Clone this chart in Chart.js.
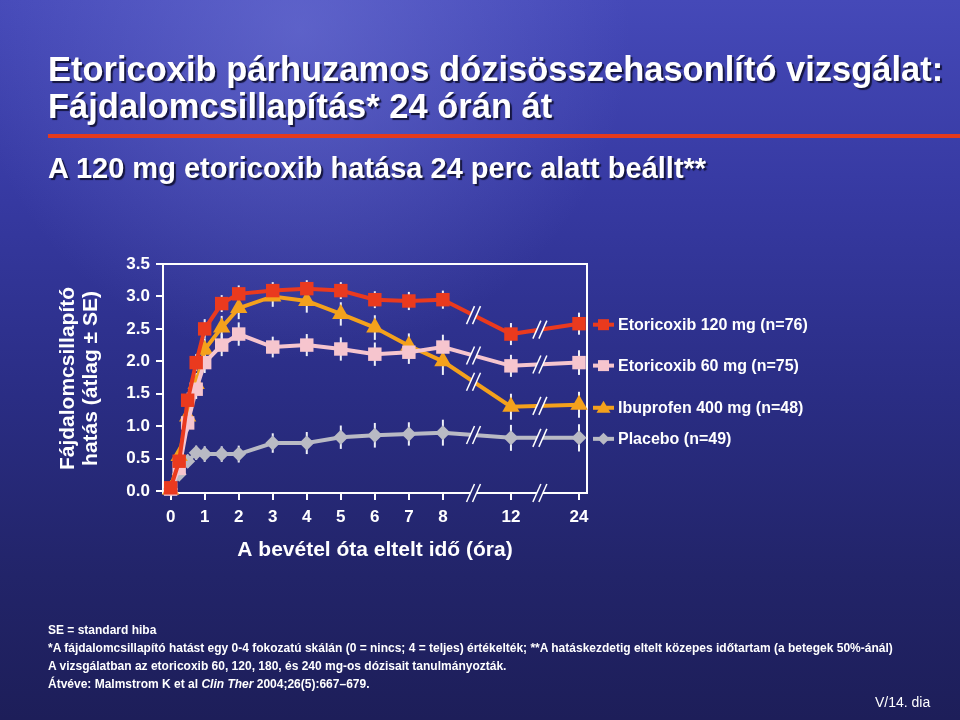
<!DOCTYPE html>
<html>
<head>
<meta charset="utf-8">
<script src="https://cdn.jsdelivr.net/npm/chart.js@4.4.1/dist/chart.umd.min.js"></script>
<style>
  html, body { margin: 0; padding: 0; }
  body { width: 960px; height: 720px; overflow: hidden; position: relative; background: #2a2d85;
         font-family: "Liberation Sans", Arial, sans-serif; color: #fff; }
  #chart { position: absolute; left: 0; top: 0; }
  .title { position: absolute; left: 48px; top: 51px; font-size: 34.5px; line-height: 37px; font-weight: bold;
           text-shadow: 2px 2px 1px #15163f; white-space: nowrap; }
  .rule { position: absolute; left: 48px; top: 134px; width: 912px; height: 4px; background: #e53a1c; }
  .sub { position: absolute; left: 48px; top: 152px; font-size: 29px; line-height: 1.15; font-weight: bold;
         text-shadow: 2px 2px 1px #15163f; white-space: nowrap; }
  .notes { position: absolute; left: 48px; top: 621px; font-size: 12px; line-height: 18px; font-weight: bold; white-space: nowrap; }
  .slide { position: absolute; left: 875px; top: 694px; font-size: 14px; white-space: nowrap; }
</style>
</head>
<body>
<canvas id="chart" width="960" height="720"></canvas>
<div class="title">Etoricoxib párhuzamos dózisösszehasonlító vizsgálat:<br>Fájdalomcsillapítás* 24 órán át</div>
<div class="rule"></div>
<div class="sub">A 120 mg etoricoxib hatása 24 perc alatt beállt**</div>
<div class="notes">SE = standard hiba<br>*A fájdalomcsillapító hatást egy 0-4 fokozatú skálán (0 = nincs; 4 = teljes) értékelték; **A hatáskezdetig eltelt közepes időtartam (a betegek 50%-ánál)<br>A vizsgálatban az etoricoxib 60, 120, 180, és 240 mg-os dózisait tanulmányozták.<br>Átvéve: Malmstrom K et al <i>Clin Ther</i> 2004;26(5):667–679.</div>
<div class="slide">V/14. dia</div>
<script>
// idõpontok (óra) és átlag ± SE értékek, a képrõl leolvasva
const hours = [0, 0.25, 0.5, 0.75, 1, 1.5, 2, 3, 4, 5, 6, 7, 8, 12, 24];
const xTickHours = [0, 1, 2, 3, 4, 5, 6, 7, 8, 12, 24];
const yTicks = [0, 0.5, 1, 1.5, 2, 2.5, 3, 3.5];

const etori120 = [0.05, 0.46, 1.40, 1.98, 2.50, 2.89, 3.04, 3.09, 3.12, 3.09, 2.95, 2.93, 2.95, 2.42, 2.58];
const etori60  = [0.03, 0.35, 1.05, 1.57, 1.98, 2.25, 2.42, 2.22, 2.25, 2.19, 2.11, 2.14, 2.22, 1.93, 1.98];
const ibuprofen = [0.02, 0.54, 1.15, 1.65, 2.18, 2.52, 2.82, 3.00, 2.93, 2.73, 2.52, 2.24, 2.00, 1.30, 1.33];
const placebo  = [0.03, 0.26, 0.46, 0.59, 0.57, 0.57, 0.57, 0.74, 0.74, 0.83, 0.86, 0.88, 0.90, 0.82, 0.82];

const se120 = [0, 0.10, 0.12, 0.13, 0.15, 0.13, 0.13, 0.13, 0.13, 0.13, 0.13, 0.14, 0.14, 0.17, 0.17];
const se60  = [0, 0.10, 0.13, 0.15, 0.16, 0.17, 0.18, 0.16, 0.17, 0.18, 0.18, 0.18, 0.19, 0.17, 0.19];
const seIbu = [0, 0.12, 0.15, 0.17, 0.17, 0.18, 0.17, 0.16, 0.18, 0.18, 0.19, 0.19, 0.21, 0.20, 0.20];
const sePla = [0, 0.08, 0.10, 0.11, 0.12, 0.12, 0.13, 0.15, 0.17, 0.18, 0.19, 0.18, 0.20, 0.20, 0.21];

const labels = ["Etoricoxib 120 mg (n=76)", "Etoricoxib 60 mg (n=75)", "Ibuprofen 400 mg (n=48)", "Placebo (n=49)"];

// megszakított idõtengely: 0–8 óra lineáris, utána 12 és 24 óra két-két egységgel arrébb
function axisPos(h) {
  if (h <= 8) return h;
  return h <= 12 ? 8 + (h - 8) / 2 : 10 + (h - 12) / 6;
}
const breakAt = [8.9, 10.85]; // a "//" jelek helye tengely-egységben

const FONT = '"Liberation Sans", Arial, sans-serif';
const COLORS = ["#ea3a1e", "#f6c5ce", "#f4a11c", "#b9bac4"];
const STYLES = ["rect", "rect", "triangle", "rectRot"];
const RADII = [9.5, 9.5, 10, 7.5];
const values = [etori120, etori60, ibuprofen, placebo];
const errors = [se120, se60, seIbu, sePla];

let bgGrad = null;
function makeBg(ctx) {
  const g = ctx.createLinearGradient(0, 0, 0, 720);
  g.addColorStop(0, "#4549b8");
  g.addColorStop(0.28, "#3639a1");
  g.addColorStop(0.55, "#2a2d84");
  g.addColorStop(0.8, "#222469");
  g.addColorStop(1, "#1d1e59");
  return g;
}

const backdrop = {
  id: "backdrop",
  beforeDraw(chart) {
    const ctx = chart.ctx;
    bgGrad = makeBg(ctx);
    ctx.save();
    ctx.fillStyle = bgGrad;
    ctx.fillRect(0, 0, chart.width, chart.height);
    const r = ctx.createRadialGradient(300, 30, 0, 300, 30, 330);
    r.addColorStop(0, "rgba(125,130,225,0.45)");
    r.addColorStop(1, "rgba(125,130,225,0)");
    ctx.fillStyle = r;
    ctx.fillRect(0, 0, chart.width, 360);
    ctx.restore();
  }
};

function slashes(ctx, cx, cy) {
  // háttérszínû rés két ferde vonal között, majd a fehér vonalak
  const dx = 4, dy = 9, gap = 3;
  ctx.save();
  ctx.fillStyle = bgGrad;
  ctx.beginPath();
  ctx.moveTo(cx - gap - dx, cy + dy);
  ctx.lineTo(cx - gap + dx, cy - dy);
  ctx.lineTo(cx + gap + dx, cy - dy);
  ctx.lineTo(cx + gap - dx, cy + dy);
  ctx.closePath();
  ctx.fill();
  ctx.strokeStyle = "#ffffff";
  ctx.lineWidth = 1.5;
  [-gap, gap].forEach((o) => {
    ctx.beginPath();
    ctx.moveTo(cx + o - dx, cy + dy);
    ctx.lineTo(cx + o + dx, cy - dy);
    ctx.stroke();
  });
  ctx.restore();
}

const frameAndErrors = {
  id: "frameAndErrors",
  beforeDatasetsDraw(chart) {
    const { ctx, chartArea: a, scales: { x, y } } = chart;
    ctx.save();
    ctx.strokeStyle = "#ffffff";
    ctx.lineWidth = 2;
    ctx.strokeRect(a.left, a.top, a.right - a.left, a.bottom - a.top);
    ctx.restore();
    breakAt.forEach((b) => slashes(ctx, x.getPixelForValue(b), a.bottom));
    // hibasávok (átlag ± SE)
    ctx.save();
    ctx.strokeStyle = "#eef0f8";
    ctx.lineWidth = 2;
    chart.data.datasets.forEach((ds, di) => {
      const meta = chart.getDatasetMeta(di);
      meta.data.forEach((pt, i) => {
        const e = errors[di][i];
        if (!e) return;
        ctx.beginPath();
        ctx.moveTo(pt.x, y.getPixelForValue(values[di][i] + e));
        ctx.lineTo(pt.x, y.getPixelForValue(values[di][i] - e));
        ctx.stroke();
      });
    });
    ctx.restore();
  },
  afterDatasetsDraw(chart) {
    const { ctx, chartArea: a, scales: { x, y } } = chart;
    chart.data.datasets.forEach((ds, di) => {
      const pts = chart.getDatasetMeta(di).data;
      breakAt.forEach((b) => {
        const px = x.getPixelForValue(b);
        let k = pts.findIndex((p) => p.x > px);
        const p0 = pts[k - 1], p1 = pts[k];
        const py = p0.y + (p1.y - p0.y) * (px - p0.x) / (p1.x - p0.x);
        slashes(ctx, px, py);
      });
    });
    // jelmagyarázat a görbék végénél
    ctx.save();
    chart.data.datasets.forEach((ds, di) => {
      const pts = chart.getDatasetMeta(di).data;
      const ly = pts[pts.length - 1].y + (di === 1 || di === 2 ? 3 : 1);
      const x0 = a.right + 6, x1 = a.right + 27, mx = (x0 + x1) / 2;
      ctx.strokeStyle = COLORS[di];
      ctx.fillStyle = COLORS[di];
      ctx.lineWidth = 4;
      ctx.beginPath(); ctx.moveTo(x0, ly); ctx.lineTo(x1, ly); ctx.stroke();
      ctx.beginPath();
      if (STYLES[di] === "rect") ctx.rect(mx - 5.5, ly - 5.5, 11, 11);
      else if (STYLES[di] === "triangle") { ctx.moveTo(mx, ly - 7); ctx.lineTo(mx + 7, ly + 5); ctx.lineTo(mx - 7, ly + 5); ctx.closePath(); }
      else { ctx.moveTo(mx, ly - 6); ctx.lineTo(mx + 6, ly); ctx.lineTo(mx, ly + 6); ctx.lineTo(mx - 6, ly); ctx.closePath(); }
      ctx.fill();
      ctx.fillStyle = "#ffffff";
      ctx.font = "bold 16px " + FONT;
      ctx.textBaseline = "middle";
      ctx.textAlign = "left";
      ctx.fillText(labels[di], a.right + 31, ly + 1);
    });
    ctx.restore();
  }
};

const datasets = values.map((vals, di) => ({
  label: labels[di],
  data: hours.map((h, i) => ({ x: axisPos(h), y: vals[i] })),
  borderColor: COLORS[di],
  backgroundColor: COLORS[di],
  pointBackgroundColor: COLORS[di],
  pointBorderColor: COLORS[di],
  borderWidth: 4,
  pointStyle: STYLES[di],
  pointRadius: RADII[di],
  pointBorderWidth: 0,
  tension: 0,
  clip: false
}));

new Chart(document.getElementById("chart"), {
  type: "line",
  data: { datasets },
  plugins: [backdrop, frameAndErrors],
  options: {
    responsive: false,
    animation: false,
    devicePixelRatio: 1,
    layout: { padding: { left: 57, top: 264, right: 373, bottom: 157 } },
    plugins: { legend: { display: false }, tooltip: { enabled: false } },
    scales: {
      x: {
        type: "linear",
        min: -0.225,
        max: 12.235,
        afterBuildTicks: (s) => { s.ticks = xTickHours.map((h) => ({ value: axisPos(h) })); },
        afterFit: (s) => { s.height = 70; },
        ticks: { color: "#fff", font: { family: FONT, size: 17, weight: "bold" }, padding: 7,
                 maxRotation: 0, autoSkip: false, callback: (v, i) => String(xTickHours[i]) },
        grid: { drawOnChartArea: false, color: "#fff", lineWidth: 2, tickLength: 7 },
        border: { display: false },
        title: { display: true, text: "A bevétel óta eltelt idő (óra)", color: "#fff",
                 font: { family: FONT, size: 21, weight: "bold" }, padding: { top: 0, bottom: 0 } }
      },
      y: {
        type: "linear",
        min: -0.03,
        max: 3.5,
        afterBuildTicks: (s) => { s.ticks = yTicks.map((v) => ({ value: v })); },
        afterFit: (s) => { s.width = 106; },
        ticks: { color: "#fff", font: { family: FONT, size: 17, weight: "bold" }, padding: 6,
                 callback: (v) => Number(v).toFixed(1) },
        grid: { drawOnChartArea: false, color: "#fff", lineWidth: 2, tickLength: 7 },
        border: { display: false },
        title: { display: true, text: ["Fájdalomcsillapító", "hatás (átlag ± SE)"], color: "#fff",
                 font: { family: FONT, size: 21, weight: "bold", lineHeight: 1.1 }, padding: { top: 0, bottom: 0 } }
      }
    }
  }
});
</script>
</body>
</html>
